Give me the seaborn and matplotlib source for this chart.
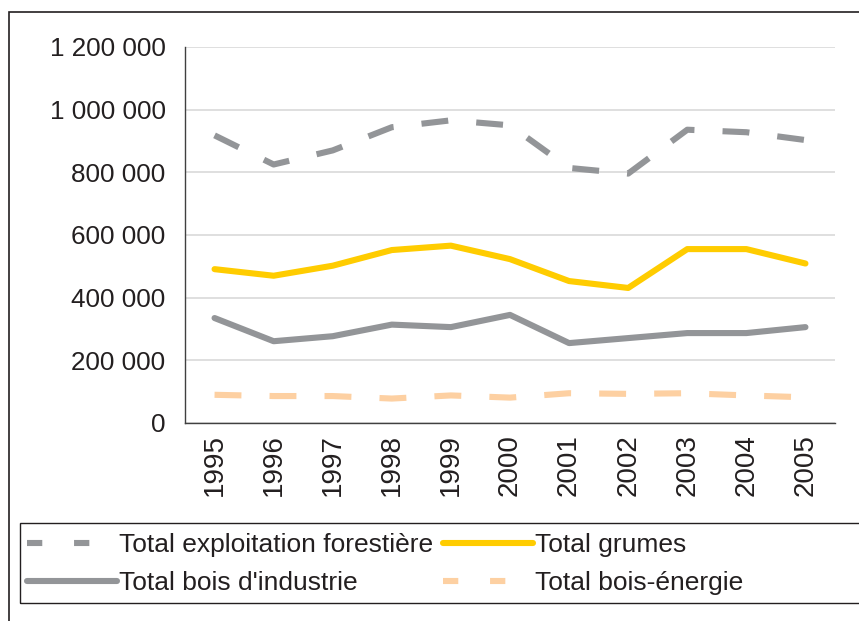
import matplotlib
matplotlib.use("Agg")
import matplotlib.pyplot as plt
import seaborn as sns
import pandas as pd
from matplotlib.patches import Rectangle
from matplotlib.lines import Line2D
from matplotlib.ticker import FuncFormatter, FixedLocator

# ---- data ----
years = ["1995", "1996", "1997", "1998", "1999", "2000",
         "2001", "2002", "2003", "2004", "2005"]
exploitation = [918000, 825000, 870000, 944000, 966000, 950000,
                814000, 796000, 936000, 928000, 903000]
grumes = [491000, 470000, 502000, 552000, 566000, 523000,
          453000, 431000, 555000, 555000, 509000]
industrie = [335000, 261000, 277000, 314000, 306000, 345000,
             255000, 271000, 287000, 287000, 306000]
energie = [90000, 86000, 86000, 78000, 88000, 81000,
           95000, 93000, 95000, 88000, 82000]

labels = ["Total exploitation forestière", "Total grumes",
          "Total bois d'industrie", "Total bois-énergie"]

df = pd.DataFrame({"annee": years,
                   labels[0]: exploitation,
                   labels[1]: grumes,
                   labels[2]: industrie,
                   labels[3]: energie})

sns.set_style("white")
plt.rcParams["font.family"] = ["Liberation Sans", "DejaVu Sans"]

fig = plt.figure(figsize=(8.59, 6.21), dpi=100)
ax = fig.add_axes([185 / 859, 1 - 423 / 621, 650 / 859, 376 / 621])

gray = "#939598"
yellow = "#FFCC00"
peach = "#FDD0A2"
lw = 4.4
dash = (0, (4.4, 4.6))
dash_leg = (0, (2.5, 5.2))

styles = {
    labels[0]: dict(color=gray, linestyle=dash),
    labels[1]: dict(color=yellow, linestyle="-"),
    labels[2]: dict(color=gray, linestyle="-"),
    labels[3]: dict(color=peach, linestyle=dash),
}

for name in labels:
    sns.lineplot(data=df, x="annee", y=name, ax=ax, linewidth=lw,
                 solid_capstyle="round", solid_joinstyle="round",
                 dash_capstyle="butt", sort=False, **styles[name])

# ---- axes styling ----
ax.set_xlim(-0.5, len(years) - 0.5)
ax.set_ylim(0, 1200000)
ax.set_yticks(range(0, 1200001, 200000))
ax.yaxis.set_major_formatter(FuncFormatter(lambda v, p: f"{int(v):,}".replace(",", " ")))
ax.set_xlabel("")
ax.set_ylabel("")

ax.grid(axis="y", color="#D9D9D9", linewidth=1.2)
ax.set_axisbelow(True)
for s in ["top", "right"]:
    ax.spines[s].set_visible(False)
for s in ["left", "bottom"]:
    ax.spines[s].set_color("#404040")
    ax.spines[s].set_linewidth(1.0)

ax.set_xticks(range(len(years)))
ax.set_xticklabels(years, rotation=90)
ax.xaxis.set_minor_locator(FixedLocator([i - 0.5 for i in range(len(years) + 1)]))
ax.tick_params(axis="x", which="major", length=0, pad=8, labelsize=20, labelcolor="#231F20")
ax.tick_params(axis="x", which="minor", length=6, width=1.0, color="#404040", direction="out")
ax.tick_params(axis="y", which="major", length=5, width=1.0, color="#404040",
               direction="out", pad=9, labelsize=18.7, labelcolor="#231F20")
for t in ax.get_xticklabels():
    t.set_va("top")

# ---- legend (box drawn by hand, extends past the right edge) ----
def leg_handle(name):
    st = dict(styles[name])
    if st["linestyle"] != "-":
        st["linestyle"] = dash_leg
    return Line2D([], [], linewidth=lw, solid_capstyle="round",
                  dash_capstyle="butt", **st)

order = [labels[0], labels[2], labels[1], labels[3]]
leg = fig.legend([leg_handle(n) for n in order], order, ncol=2,
                 loc="center left", bbox_to_anchor=(27 / 859, 1 - 564 / 621),
                 frameon=False, fontsize=19, handlelength=3.4, handletextpad=0.08,
                 columnspacing=0.38, labelspacing=0.52, borderpad=0, borderaxespad=0,
                 labelcolor="#231F20")
fig.patches.append(Rectangle((20 / 859, 1 - 603 / 621), 1.0, 80 / 621,
                             transform=fig.transFigure, fill=False,
                             edgecolor="#231F20", linewidth=1.0))

# outer chart border
fig.patches.append(Rectangle((9 / 859, -0.1), 1.2, 1.1 - 12 / 621,
                             transform=fig.transFigure, fill=False,
                             edgecolor="#231F20", linewidth=1.2))

fig.savefig("out.png", dpi=100)
